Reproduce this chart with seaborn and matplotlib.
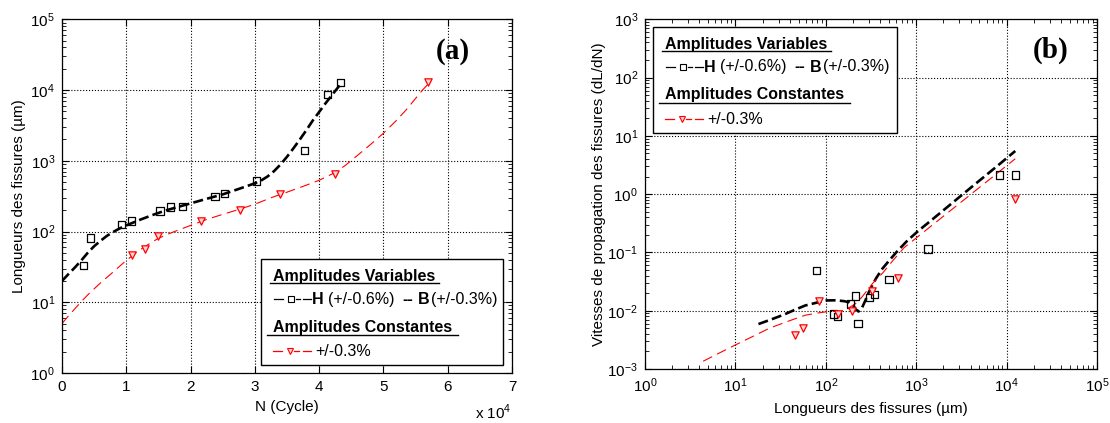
import matplotlib
matplotlib.use("Agg")
import matplotlib.pyplot as plt
import seaborn as sns
from matplotlib.lines import Line2D
from matplotlib.patches import Rectangle
from matplotlib.ticker import FixedLocator, NullFormatter, LogFormatterSciNotation

# ---- (a) longueur de fissure en fonction du nombre de cycles ----
n_var = [3370, 4400, 9260, 10800, 15250, 16850, 18780, 23810, 25250, 30230, 37770, 41250, 43300]
l_var = [33, 81, 126, 141, 195, 222, 224, 315, 347, 519, 1384, 8630, 12900]
n_cst = [10900, 12840, 14930, 21560, 27660, 33980, 42430, 57000]
l_cst = [47, 57.5, 87, 142, 199, 336, 660, 12900]

# courbes lissees
n_fit_var = [0, 1000, 2000, 3000, 4000, 5000, 6000, 7000, 8000, 9000, 10000, 12000, 14000, 16000,
             18000, 20000, 22500, 25000, 27500, 30000, 31000, 32000, 33000, 34000, 35000, 36000,
             37000, 38000, 39000, 40000, 41000, 42000, 43300]
l_fit_var = [20, 25, 31, 39, 50, 62, 74, 87, 99, 111, 122, 145, 170, 197,
             222, 250, 290, 335, 400, 480, 528, 602, 716, 888, 1140, 1500,
             2000, 2700, 3700, 4900, 6500, 8500, 12000]
n_fit_cst = [0, 1000, 2000, 3000, 4000, 5000, 6000, 7000, 8000, 9000, 10000, 11000, 12000, 13000,
             14000, 15000, 16000, 17500, 20000, 22500, 25000, 27500, 30000, 32500, 35000, 37500,
             40000, 42000, 44000, 46000, 48000, 50000, 52000, 53500, 55000, 56000, 57000]
l_fit_cst = [5.0, 6.4, 8.1, 10.2, 12.7, 15.5, 18.8, 22.5, 27, 32.5, 39, 46, 54, 62,
             71, 80, 88, 100, 122, 148, 175, 205, 243, 300, 360, 435,
             530, 650, 850, 1200, 1700, 2450, 3700, 5200, 7600, 9800, 12300]

# ---- (b) vitesse de propagation en fonction de la longueur ----
lb_var = [79, 122, 135, 187, 214, 228, 304, 344, 501, 1346, 8320, 12470]
v_var = [0.049, 0.0088, 0.0079, 0.0131, 0.018, 0.006, 0.0168, 0.0192, 0.034, 0.115, 2.12, 2.12]
lb_cst = [45.3, 55.7, 83.4, 137, 194, 326, 623, 12470]
v_cst = [0.0038, 0.0051, 0.0144, 0.0088, 0.0099, 0.0216, 0.0366, 0.83]

lb_fit_var = [18, 25, 34.6, 45, 59.3, 80, 101.6, 130, 159, 180, 200, 215, 230, 250, 273, 300, 330,
              360, 420, 500, 611, 800, 1047, 1500, 2150, 3000, 4400, 6000, 8000, 12470]
v_fit_var = [0.0059, 0.0071, 0.0086, 0.0103, 0.0123, 0.0138, 0.015, 0.0151, 0.0146, 0.014, 0.0125,
             0.0105, 0.0097, 0.011, 0.0148, 0.021, 0.028, 0.036, 0.052, 0.072, 0.103, 0.16, 0.232,
             0.366, 0.58, 0.89, 1.45, 2.15, 3.1, 5.5]
lb_fit_cst = [4.4, 6.5, 9.86, 15, 24.2, 40, 59.3, 80, 101.6, 145, 175, 208, 240, 273, 330, 427, 550,
              731, 1000, 1371, 2000, 2812, 4000, 5270, 7000, 9030, 12470]
v_fit_cst = [0.00136, 0.00185, 0.00256, 0.00352, 0.00507, 0.00676, 0.00837, 0.0091, 0.0096, 0.0098,
             0.011, 0.0128, 0.0158, 0.0202, 0.0295, 0.0446, 0.072, 0.12, 0.177, 0.262, 0.418, 0.637,
             0.986, 1.39, 1.97, 2.71, 4.05]

plt.rcParams['font.family'] = ['Liberation Sans', 'DejaVu Sans']
plt.rcParams['mathtext.fontset'] = 'custom'
plt.rcParams['mathtext.rm'] = 'Liberation Sans'
plt.rcParams['mathtext.bf'] = 'Liberation Sans:bold'

W, H = 1110, 423
fig = plt.figure(figsize=(W / 100, H / 100), dpi=100)
ax1 = fig.add_axes([62 / W, 1 - 373 / H, 450 / W, 353.7 / H])
ax2 = fig.add_axes([645 / W, 1 - 369 / H, 452 / W, 349.7 / H])


def courbes(ax, x1, y1, x2, y2):
    sns.lineplot(x=x1, y=y1, ax=ax, sort=False, estimator=None, color='black', linewidth=1.9)
    ax.lines[-1].set_dashes([3.8, 1.6])
    sns.lineplot(x=x2, y=y2, ax=ax, sort=False, estimator=None, color='red', linewidth=0.8)
    ax.lines[-1].set_dashes([9, 5])


def points(ax, x1, y1, x2, y2):
    sns.scatterplot(x=x1, y=y1, ax=ax, marker='s', s=28, facecolor='none', edgecolor='black',
                    linewidth=0.9, zorder=4)
    sns.scatterplot(x=x2, y=y2, ax=ax, marker='v', s=28, facecolor='#ffd6d6', edgecolor='red',
                    linewidth=0.9, zorder=4)


def echelle_log(axis, lo, hi):
    axis.set_major_locator(FixedLocator([10.0 ** k for k in range(lo, hi + 1)]))
    axis.set_major_formatter(LogFormatterSciNotation())
    axis.set_minor_locator(FixedLocator([m * 10.0 ** k for k in range(lo, hi) for m in range(2, 10)]))
    axis.set_minor_formatter(NullFormatter())


def habillage(ax):
    ax.grid(True, which='major', linestyle=':', color='black', linewidth=0.8)
    ax.set_axisbelow(True)
    ax.tick_params(which='both', direction='in', top=True, right=True, labelsize=11, colors='black')
    ax.tick_params(which='major', length=5, pad=5)
    ax.tick_params(which='minor', length=3)
    for s in ax.spines.values():
        s.set_color('black')
        s.set_linewidth(0.9)


# (a)
courbes(ax1, n_fit_var, l_fit_var, n_fit_cst, l_fit_cst)
points(ax1, n_var, l_var, n_cst, l_cst)
ax1.set_yscale('log')
ax1.set_xlim(0, 70000)
ax1.set_ylim(1, 1e5)
ax1.xaxis.set_major_locator(FixedLocator(range(0, 70001, 10000)))
ax1.set_xticklabels([str(i) for i in range(8)])
echelle_log(ax1.yaxis, 0, 5)
habillage(ax1)
ax1.set_xlabel('N (Cycle)', fontsize=11)
ax1.xaxis.set_label_coords(0.5, -0.076)
ax1.set_ylabel('Longueurs des fissures (µm)', fontsize=11)
ax1.yaxis.set_label_coords(-0.08, 0.5)
ax1.text(1.0, -0.083, r'x 10$^4$', transform=ax1.transAxes, ha='right', va='top', fontsize=11)
ax1.text(0.869, 0.908, '(a)', transform=ax1.transAxes, ha='center', va='center',
         fontsize=21, fontweight='bold', family='Liberation Serif')

# (b)
courbes(ax2, lb_fit_var, v_fit_var, lb_fit_cst, v_fit_cst)
points(ax2, lb_var, v_var, lb_cst, v_cst)
ax2.set_xscale('log')
ax2.set_yscale('log')
ax2.set_xlim(1, 1e5)
ax2.set_ylim(1e-3, 1e3)
echelle_log(ax2.xaxis, 0, 5)
echelle_log(ax2.yaxis, -3, 3)
habillage(ax2)
ax2.set_xlabel('Longueurs des fissures (µm)', fontsize=11)
ax2.xaxis.set_label_coords(0.5, -0.093)
ax2.set_ylabel('Vitesses de propagation des fissures (dL/dN)', fontsize=11)
ax2.yaxis.set_label_coords(-0.086, 0.5)
ax2.text(0.898, 0.912, '(b)', transform=ax2.transAxes, ha='center', va='center',
         fontsize=21, fontweight='bold', family='Liberation Serif')


def P(x, y):
    return x / W, 1 - y / H


def trait(x0, xa, xb, y, **kw):
    fig.add_artist(Line2D([P(x0 + xa, 0)[0], P(x0 + xb, 0)[0]], [P(0, y)[1]] * 2,
                          transform=fig.transFigure, zorder=11, **kw))


def legende(x0, y0, w, h):
    fig.add_artist(Rectangle(P(x0, y0 + h), w / W, h / H, transform=fig.transFigure,
                             facecolor='white', edgecolor='black', linewidth=1.0, zorder=10))
    # titre 1
    fig.text(*P(x0 + 12, y0 + 17), 'Amplitudes Variables', fontsize=11.5, fontweight='bold',
             va='center', zorder=11)
    trait(x0, 9, 178, y0 + 24, color='black', linewidth=1.0)
    # echantillon noir
    y = y0 + 40
    for a, b in [(13, 22), (35, 39), (42, 50)]:
        trait(x0, a, b, y, color='black', linewidth=0.9)
    fig.add_artist(Line2D([P(x0 + 30, 0)[0]], [P(0, y)[1]], transform=fig.transFigure, marker='s',
                          markersize=4.5, markerfacecolor='white', markeredgecolor='black',
                          markeredgewidth=0.8, zorder=12))
    for dx, txt, fw in [(51, 'H', 'bold'), (67, '(+/-0.6%)', 'normal'), (141, '--', 'bold'),
                        (157, 'B', 'bold'), (170, '(+/-0.3%)', 'normal')]:
        fig.text(*P(x0 + dx, y), txt, fontsize=11.5, fontweight=fw, va='center', zorder=11)
    # titre 2
    fig.text(*P(x0 + 12, y0 + 68), 'Amplitudes Constantes', fontsize=11.5, fontweight='bold',
             va='center', zorder=11)
    trait(x0, 6, 197, y0 + 76, color='black', linewidth=1.0)
    # echantillon rouge
    y = y0 + 92
    for a, b in [(12, 21), (33, 38), (42, 50)]:
        trait(x0, a, b, y, color='red', linewidth=0.9)
    fig.add_artist(Line2D([P(x0 + 29, 0)[0]], [P(0, y)[1]], transform=fig.transFigure, marker='v',
                          markersize=4.5, markerfacecolor='#ffd6d6', markeredgecolor='red',
                          markeredgewidth=0.8, zorder=12))
    fig.text(*P(x0 + 54, y), '+/-0.3%', fontsize=11.5, va='center', zorder=11)


legende(261, 259, 242, 106)
legende(653, 27, 244, 106)

fig.savefig('out.png', dpi=100)
